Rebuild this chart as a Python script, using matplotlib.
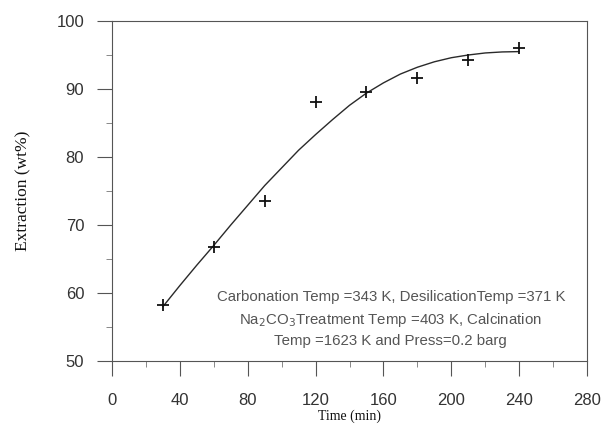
import matplotlib
matplotlib.use("Agg")
import matplotlib.pyplot as plt
from matplotlib.ticker import MultipleLocator

# Measured extraction data
time_min = [30, 60, 90, 120, 150, 180, 210, 240]
extraction = [58.2, 66.8, 73.5, 88.1, 89.6, 91.6, 94.3, 96.0]

# Smoothed trend curve
curve_time = [30, 40, 50, 60, 70, 80, 90, 100, 110, 120, 130, 140, 150,
              160, 170, 180, 190, 200, 210, 220, 230, 240]
curve_ext = [58.0, 61.1, 64.1, 67.0, 70.0, 72.9, 75.8, 78.4, 81.0, 83.3,
             85.5, 87.6, 89.4, 90.9, 92.2, 93.2, 94.0, 94.6, 95.0, 95.3,
             95.45, 95.5]

x_ticks = [0, 40, 80, 120, 160, 200, 240, 280]
y_ticks = [50, 60, 70, 80, 90, 100]

note = ("Carbonation Temp =343 K, DesilicationTemp =371 K\n"
        "Na$_2$CO$_3$Treatment Temp =403 K, Calcination\n"
        "Temp =1623 K and Press=0.2 barg")

sans = ["Liberation Sans", "DejaVu Sans"]
serif = ["Liberation Serif", "DejaVu Serif"]
frame_col = "#555555"
text_col = "#333333"

fig = plt.figure(figsize=(6.01, 4.33), dpi=100)
ax = fig.add_axes([0.1864, 0.1663, 0.7903, 0.7852])

ax.plot(curve_time, curve_ext, color="#2a2a2a", lw=1.0)
ax.plot(time_min, extraction, linestyle="none", marker="+", ms=8, mew=1.3,
        color="#111111")

ax.set_xlim(0, 280)
ax.set_ylim(50, 100)
ax.set_xticks(x_ticks)
ax.set_yticks(y_ticks)
ax.xaxis.set_minor_locator(MultipleLocator(20))
ax.yaxis.set_minor_locator(MultipleLocator(5))

for s in ax.spines.values():
    s.set_color(frame_col)
    s.set_linewidth(0.8)

ax.tick_params(which="major", direction="out", length=11, width=0.8,
               color=frame_col, labelcolor=text_col, labelsize=12)
ax.tick_params(which="minor", direction="out", length=4, width=0.7,
               color="#888888")
ax.tick_params(axis="x", which="major", pad=12)
ax.tick_params(axis="y", which="major", pad=9)
for lab in ax.get_xticklabels() + ax.get_yticklabels():
    lab.set_family(sans)

ax.set_xlabel("Time (min)", family=serif, fontsize=10, color="#111111",
              labelpad=1)
ax.set_ylabel("Extraction (wt%)", family=serif, fontsize=12.5,
              color="#111111", labelpad=18)

ax.text(0.587, 0.1235, note, transform=ax.transAxes, ha="center",
        va="center", family=sans, fontsize=10.8, color="#555555",
        linespacing=1.5)

fig.savefig("out.png", dpi=100)
